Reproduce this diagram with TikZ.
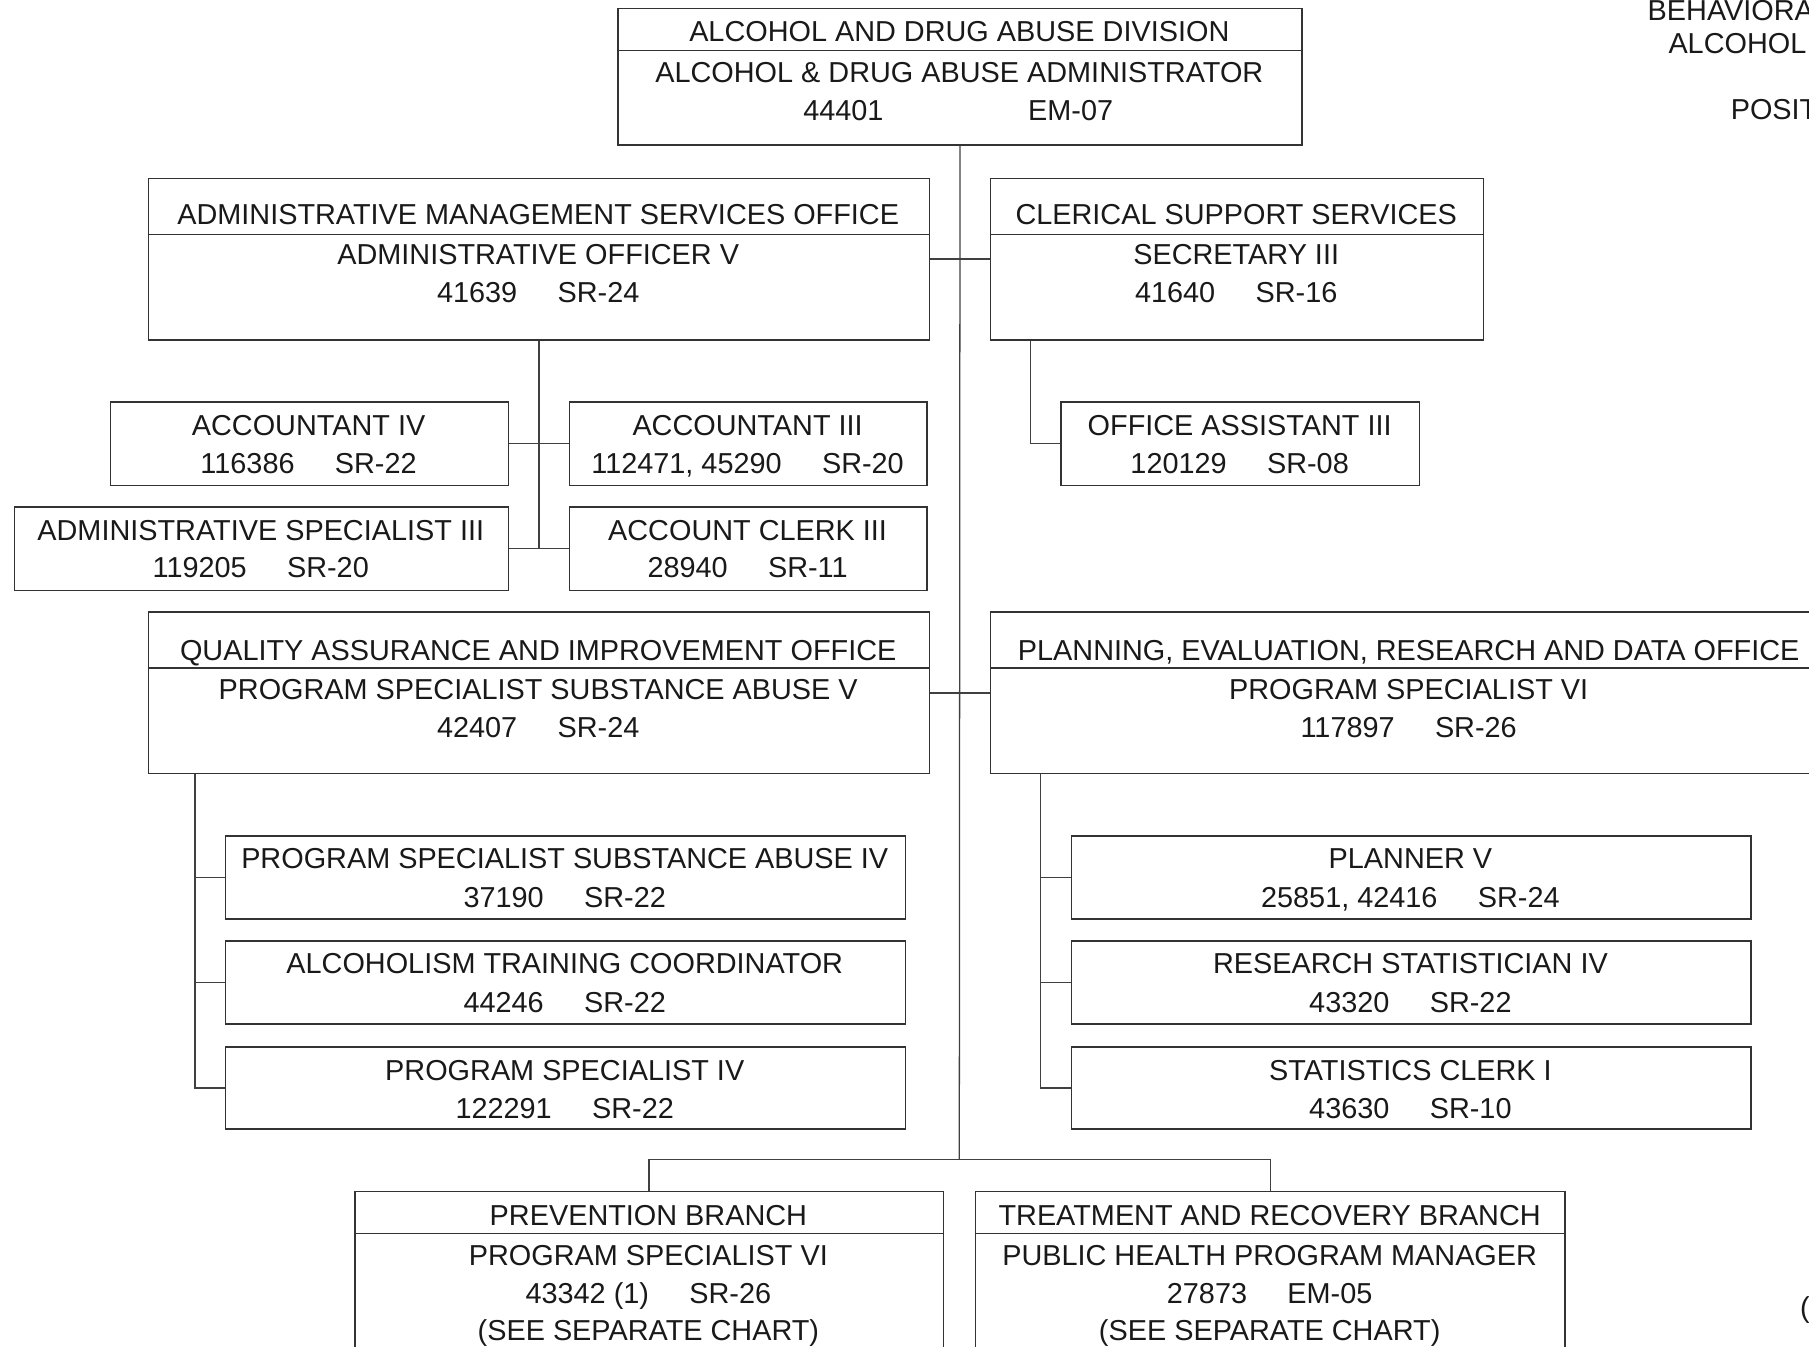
\documentclass[tikz,border=0pt]{standalone}
\usepackage{fontspec}
\setmainfont{Liberation Sans}
\newcommand\orgbox[5]{\node[box, minimum width=#4pt, minimum height=#5pt] (#1) at (#2,#3) {};}
\newcommand\tline[4]{\node[txt] (#1) at (#2,#3+9.2) {#4};}
\newcommand\gap{\hspace{35pt}}
\begin{document}
\begin{tikzpicture}[x=1pt,y=-1pt,
  box/.style={draw=black!80, line width=1.2pt, inner sep=0pt, anchor=north west},
  txt/.style={font=\fontsize{25}{29}\selectfont, text=black!90, inner sep=0pt, anchor=base},
  link/.style={draw=black!75, line width=1.1pt}]
\useasboundingbox (0,0) rectangle (1568,1167);
\clip (0,0) rectangle (1568,1167);

% boxes
\orgbox{top}{535}{7}{593}{118}
\orgbox{adm}{128}{154}{677}{140}
\orgbox{cls}{858}{154}{427}{140}
\orgbox{acc4}{95}{348}{345}{72}
\orgbox{acc3}{493}{348}{310}{72}
\orgbox{oa}{919}{348}{311}{72}
\orgbox{asp}{12}{439}{428}{72}
\orgbox{acl}{493}{439}{310}{72}
\orgbox{qa}{128}{530}{677}{140}
\orgbox{ped}{858}{530}{726}{140}
\orgbox{pssa}{195}{724}{589}{72}
\orgbox{atc}{195}{815}{589}{72}
\orgbox{ps4}{195}{907}{589}{71}
\orgbox{pl}{928}{724}{589}{72}
\orgbox{rs}{928}{815}{589}{72}
\orgbox{sc}{928}{907}{589}{71}
\orgbox{prev}{307}{1032}{510}{160}
\orgbox{trt}{845}{1032}{511}{160}

% dividers
\draw[box] (top.west |- 0,44) -- (top.east |- 0,44);
\draw[box] (adm.west |- 0,203) -- (adm.east |- 0,203);
\draw[box] (cls.west |- 0,203) -- (cls.east |- 0,203);
\draw[box] (qa.west |- 0,579) -- (qa.east |- 0,579);
\draw[box] (ped.west |- 0,579) -- (ped.east |- 0,579);
\draw[box] (prev.west |- 0,1069) -- (prev.east |- 0,1069);
\draw[box] (trt.west |- 0,1069) -- (trt.east |- 0,1069);

% connectors
\coordinate (cj) at (831.5,1005);
\draw[link] (top.south) -- (cj);
\draw[link] (prev.north) |- (cj) -| (trt.north);
\draw[link] (adm.east) -- (cls.west);
\draw[link] (qa.east) -- (ped.west);
\draw[link] (adm.south) -- (adm.south |- asp.east);
\draw[link] (acc4.east) -- (acc3.west);
\draw[link] (asp.east) -- (acl.west);
\draw[link] ([xshift=35pt]cls.south west) |- (oa.west);
\coordinate (qav) at ([xshift=41pt]qa.south west);
\draw[link] (qav) |- (ps4.west);
\draw[link] (pssa.west) -- (pssa.west -| qav);
\draw[link] (atc.west) -- (atc.west -| qav);
\coordinate (pev) at ([xshift=44pt]ped.south west);
\draw[link] (pev) |- (sc.west);
\draw[link] (pl.west) -- (pl.west -| pev);
\draw[link] (rs.west) -- (rs.west -| pev);

% texts
\tline{top1}{831.5}{27}{ALCOHOL AND DRUG ABUSE DIVISION}
\tline{top2}{831.5}{62}{ALCOHOL \& DRUG ABUSE ADMINISTRATOR}
\tline{top3}{731}{95}{44401}
\tline{top4}{928}{95}{EM-07}

\tline{adm1}{466.5}{185}{ADMINISTRATIVE MANAGEMENT SERVICES OFFICE}
\tline{adm2}{466.5}{220}{ADMINISTRATIVE OFFICER V}
\tline{adm3}{466.5}{253}{41639\gap SR-24}

\tline{cls1}{1071.5}{185}{CLERICAL SUPPORT SERVICES}
\tline{cls2}{1071.5}{220}{SECRETARY III}
\tline{cls3}{1071.5}{253}{41640\gap SR-16}

\tline{acc41}{267.5}{368}{ACCOUNTANT IV}
\tline{acc42}{267.5}{401}{116386\gap SR-22}
\tline{acc31}{648}{368}{ACCOUNTANT III}
\tline{acc32}{648}{401}{112471, 45290\gap SR-20}
\tline{oa1}{1074.5}{368}{OFFICE ASSISTANT III}
\tline{oa2}{1074.5}{401}{120129\gap SR-08}
\tline{asp1}{226}{459}{ADMINISTRATIVE SPECIALIST III}
\tline{asp2}{226}{491}{119205\gap SR-20}
\tline{acl1}{648}{459}{ACCOUNT CLERK III}
\tline{acl2}{648}{491}{28940\gap SR-11}

\tline{qa1}{466.5}{563}{QUALITY ASSURANCE AND IMPROVEMENT OFFICE}
\tline{qa2}{466.5}{597}{PROGRAM SPECIALIST SUBSTANCE ABUSE V}
\tline{qa3}{466.5}{630}{42407\gap SR-24}
\tline{ped1}{1221}{563}{PLANNING, EVALUATION, RESEARCH AND DATA OFFICE}
\tline{ped2}{1221}{597}{PROGRAM SPECIALIST VI}
\tline{ped3}{1221}{630}{117897\gap SR-26}

\tline{pssa1}{489.5}{744}{PROGRAM SPECIALIST SUBSTANCE ABUSE IV}
\tline{pssa2}{489.5}{777}{37190\gap SR-22}
\tline{atc1}{489.5}{835}{ALCOHOLISM TRAINING COORDINATOR}
\tline{atc2}{489.5}{868}{44246\gap SR-22}
\tline{ps41}{489.5}{927}{PROGRAM SPECIALIST IV}
\tline{ps42}{489.5}{960}{122291\gap SR-22}

\tline{pl1}{1222.5}{744}{PLANNER V}
\tline{pl2}{1222.5}{777}{25851, 42416\gap SR-24}
\tline{rs1}{1222.5}{835}{RESEARCH STATISTICIAN IV}
\tline{rs2}{1222.5}{868}{43320\gap SR-22}
\tline{sc1}{1222.5}{927}{STATISTICS CLERK I}
\tline{sc2}{1222.5}{960}{43630\gap SR-10}

\tline{prev1}{562}{1053}{PREVENTION BRANCH}
\tline{prev2}{562}{1088}{PROGRAM SPECIALIST VI}
\tline{prev3}{562}{1121}{43342 (1)\gap SR-26}
\tline{prev4}{562}{1153}{(SEE SEPARATE CHART)}
\tline{trt1}{1100.5}{1053}{TREATMENT AND RECOVERY BRANCH}
\tline{trt2}{1100.5}{1088}{PUBLIC HEALTH PROGRAM MANAGER}
\tline{trt3}{1100.5}{1121}{27873\gap EM-05}
\tline{trt4}{1100.5}{1153}{(SEE SEPARATE CHART)}

% cut-off texts at the right edge
\node[txt, anchor=base west] (h1) at (1428,18) {BEHAVIORA};
\node[txt, anchor=base west] (h2) at (1446,46) {ALCOHOL};
\node[txt, anchor=base west] (h3) at (1500,104) {POSIT};
\node[txt, anchor=base west] (h4) at (1560,1142) {(};
\end{tikzpicture}
\end{document}
